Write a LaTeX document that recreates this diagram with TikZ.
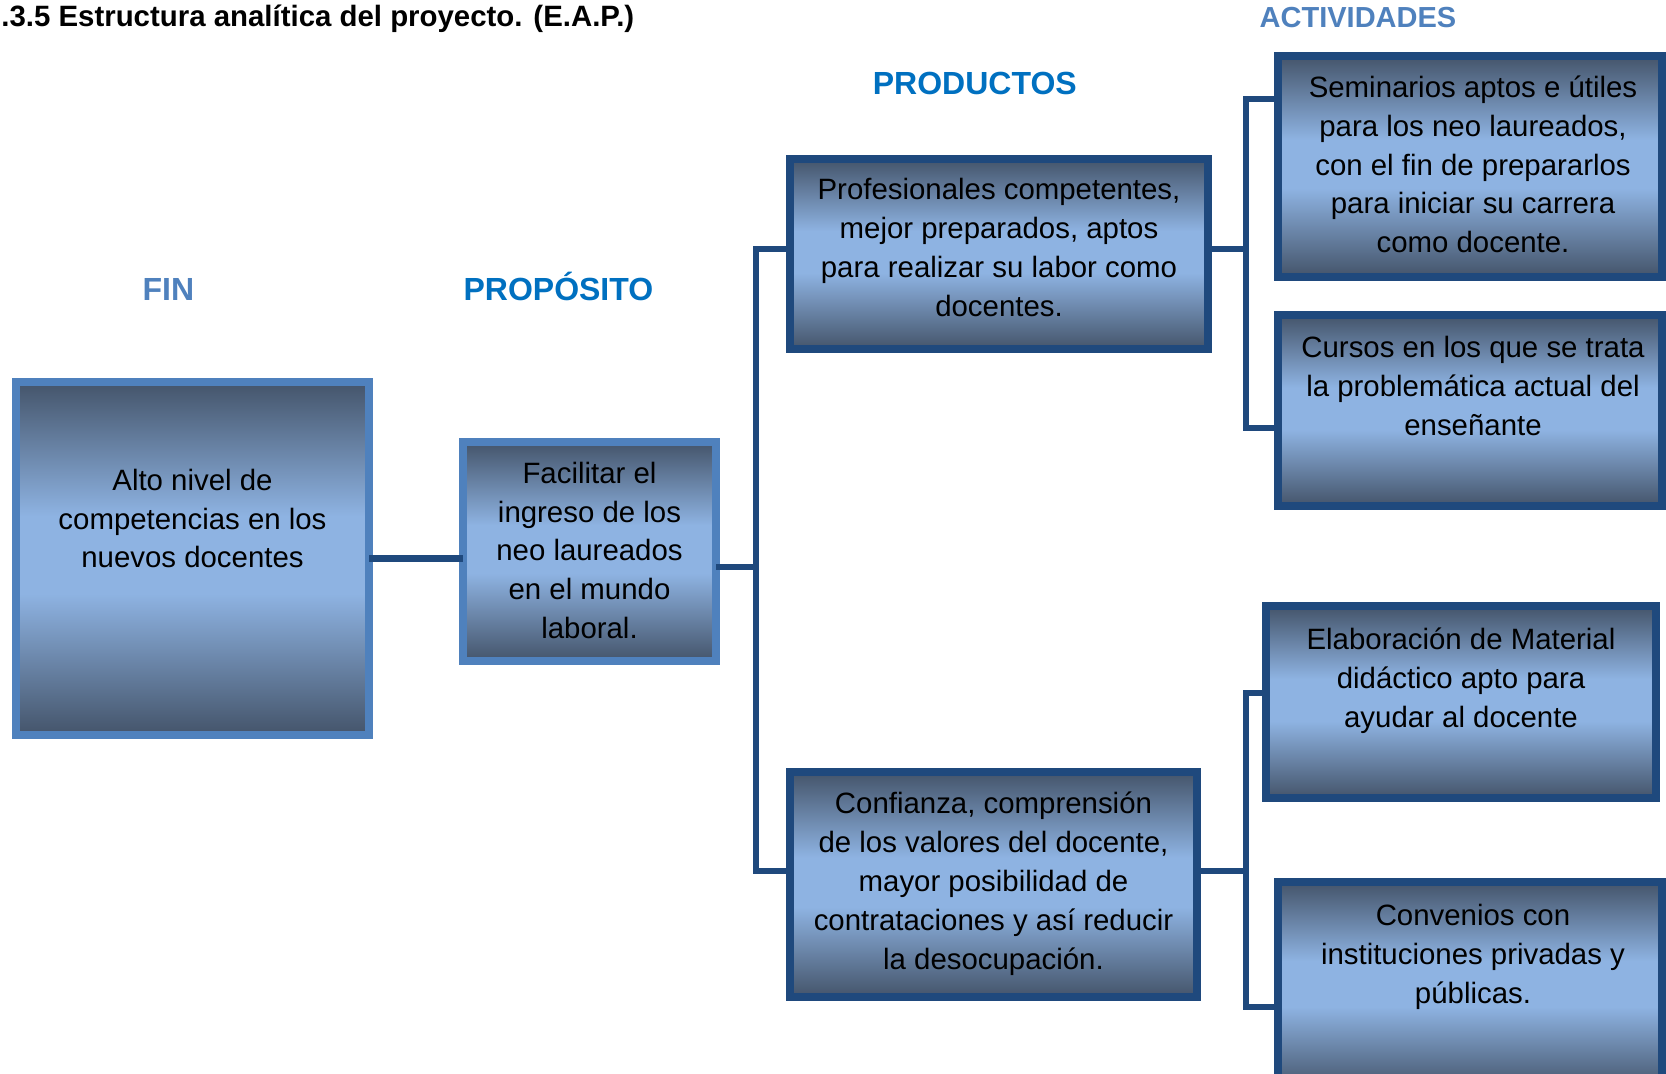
\documentclass[tikz,border=0pt]{standalone}
\usepackage{fontspec}
\setmainfont{Liberation Sans}
\definecolor{bdark}{RGB}{68,84,106}
\definecolor{blight}{RGB}{142,179,226}
\definecolor{lborder}{RGB}{79,129,189}
\definecolor{dborder}{RGB}{31,73,125}
\definecolor{labA}{RGB}{79,129,189}
\definecolor{labB}{RGB}{0,112,192}
\pgfdeclareverticalshading{boxshade}{100bp}{color(0bp)=(bdark); color(25bp)=(bdark); color(45bp)=(blight); color(56bp)=(blight); color(75bp)=(bdark); color(100bp)=(bdark)}
\tikzset{
  boxbase/.style={rectangle, line width=4pt, shade, shading=boxshade, inner sep=0pt, outer sep=0pt},
  boxL/.style={boxbase, draw=lborder},
  boxD/.style={boxbase, draw=dborder},
  txt/.style={align=center, font=\fontsize{14.7pt}{19.4pt}\selectfont, inner sep=0pt, anchor=base, yshift=-1.5pt},
  head/.style={font=\bfseries\fontsize{16pt}{19pt}\selectfont, inner sep=0pt, anchor=base},
  conn/.style={draw=dborder, line width=3.25pt, line join=miter},
}
\begin{document}
\begin{tikzpicture}[x=0.5pt, y=-0.5pt]
\useasboundingbox (0,0) rectangle (1666,1074);
\clip (0,0) rectangle (1666,1074);

% title and headers
\node[font=\bfseries\fontsize{14.7pt}{18pt}\selectfont, inner sep=0pt, anchor=base west] (title) at (1,26.7) {.3.5 Estructura analítica del proyecto. (E.A.P.)};
\node[head, text=labA] (hfin) at (168.4,301) {FIN};
\node[head, text=labB] (hprop) at (558.4,301) {PROPÓSITO};
\node[head, text=labB] (hprod) at (974.8,95) {PRODUCTOS};
\node[head, text=labA, font=\bfseries\fontsize{14.5pt}{18pt}\selectfont] (hact) at (1358,28) {ACTIVIDADES};

% boxes
\node[boxL, minimum width=176.5pt, minimum height=176.5pt] (fin) at (192.5,558.5) {};
\node[boxL, minimum width=126.5pt, minimum height=109.5pt] (prop) at (589.5,551.5) {};
\node[boxD, minimum width=209pt, minimum height=95pt] (p1) at (998.5,254) {};
\node[boxD, minimum width=203.5pt, minimum height=112.5pt] (p2) at (993.5,884.5) {};
\node[boxD, minimum width=192pt, minimum height=110.5pt] (a1) at (1470,166.2) {};
\node[boxD, minimum width=192pt, minimum height=95.5pt] (a2) at (1470,410.5) {};
\node[boxD, minimum width=195pt, minimum height=96pt] (a3) at (1461,702) {};
\node[boxD, minimum width=192pt, minimum height=104pt] (a4) at (1470,986) {};

% junction points
\coordinate (jp) at (756,567);
\coordinate (ja) at (1246,249);
\coordinate (jb) at (1246,871);
\coordinate (ya1) at (0,99);
\coordinate (ya2) at (0,428);
\coordinate (ya3) at (0,693);
\coordinate (ya4) at (0,1007);

% connectors
\draw[conn] (fin.east) -- (fin.east -| prop.west);
\draw[conn] (prop.east |- jp) -- (jp);
\draw[conn] (p1.west |- ja) -| (jp) |- (p2.west |- jb);
\draw[conn] (p1.east |- ja) -- (ja);
\draw[conn] (a1.west |- ya1) -| (ja) |- (a2.west |- ya2);
\draw[conn] (p2.east |- jb) -- (jb);
\draw[conn] (a3.west |- ya3) -| (jb) |- (a4.west |- ya4);

% texts (anchor base = baseline of last line)
\node[txt] (tfin) at (192.5,564.9) {Alto nivel de\\competencias en los\\nuevos docentes};
\node[txt] (tprop) at (589.5,635.6) {Facilitar el\\ingreso de los\\neo laureados\\en el mundo\\laboral.};
\node[txt] (tp1) at (999,313.1) {Profesionales competentes,\\mejor preparados, aptos\\para realizar su labor como\\docentes.};
\node[txt] (tp2) at (993.5,966.1) {Confianza, comprensión\\de los valores del docente,\\mayor posibilidad de\\contrataciones y así reducir\\la desocupación.};
\node[txt] (ta1) at (1473,249.7) {Seminarios aptos e útiles\\para los neo laureados,\\con el fin de prepararlos\\para iniciar su carrera\\como docente.};
\node[txt] (ta2) at (1473,432.1) {Cursos en los que se trata\\la problemática actual del\\enseñante};
\node[txt] (ta3) at (1461,724.1) {Elaboración de Material\\didáctico apto para\\ayudar al docente};
\node[txt] (ta4) at (1473,1000.1) {Convenios con\\instituciones privadas y\\públicas.};
\end{tikzpicture}
\end{document}
